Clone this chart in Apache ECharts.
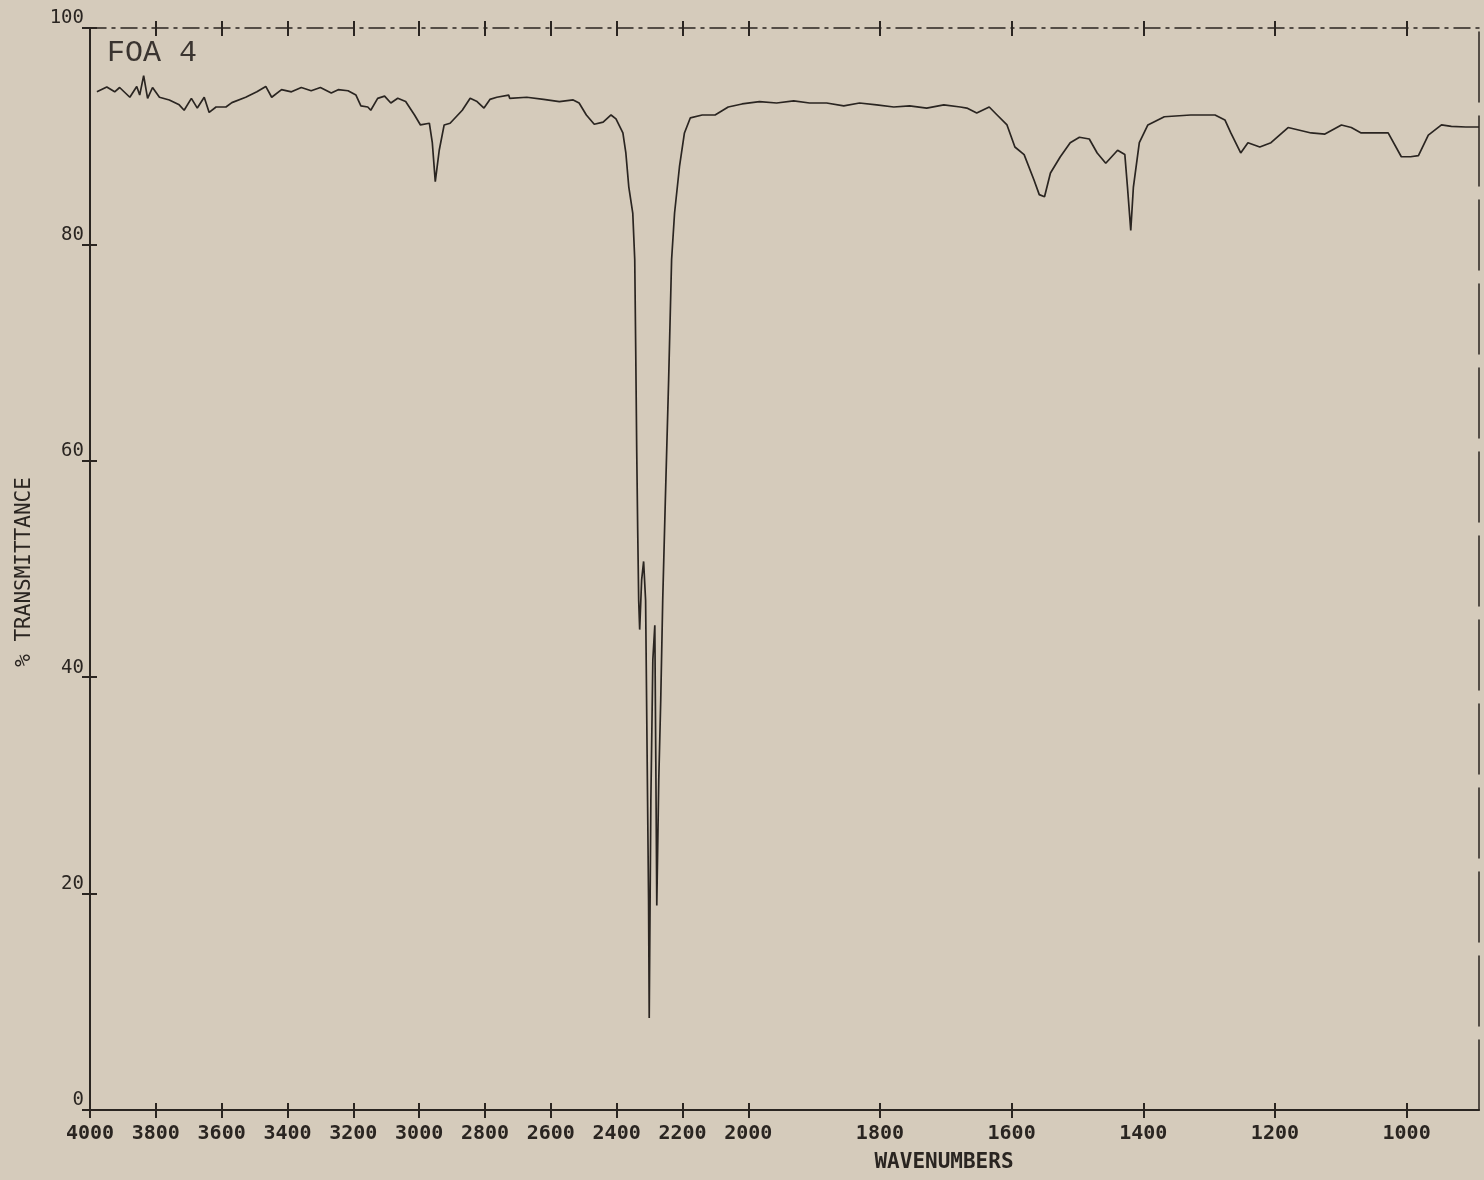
<!DOCTYPE html>
<html>
<head>
<meta charset="utf-8">
<script src="https://cdn.jsdelivr.net/npm/echarts@6/dist/echarts.min.js"></script>
<style>
html,body{margin:0;padding:0;background:#d5cbbb;}
#chart{width:1484px;height:1180px;}
</style>
</head>
<body>
<div id="chart"></div>
<script>
// Wavenumbers (cm-1) and % transmittance
const WAVENUMBERS = [3979,3949,3925,3910,3879,3858,3849,3837,3825,3810,3789,3759,3729,3714,3692,3674,3653,3638,3617,3587,3569,3527,3493,3466,3448,3418,3388,3358,3328,3300,3267,3246,3216,3192,3177,3156,3147,3126,3105,3086,3065,3041,3014,2996,2969,2960,2951,2939,2924,2906,2869,2845,2824,2803,2785,2764,2728,2725,2673,2622,2574,2532,2514,2492,2468,2441,2417,2402,2381,2372,2363,2351,2345,2342,2339,2336,2333,2330,2324,2318,2312,2309,2306,2303,2301,2296,2290,2284,2281,2278,2272,2266,2260,2252,2242,2233,2224,2209,2194,2176,2140,2101,2061,2019,1983,1957,1931,1907,1881,1855,1831,1805,1779,1755,1729,1703,1678,1668,1653,1634,1622,1607,1595,1581,1566,1558,1550,1541,1526,1511,1497,1482,1470,1457,1439,1428,1424,1419,1415,1406,1393,1368,1328,1291,1276,1267,1252,1241,1223,1206,1180,1145,1124,1099,1084,1069,1028,1008,994,982,967,947,932,910,890];
const TRANSMITTANCE = [94.1,94.55,94.1,94.5,93.6,94.6,93.8,95.6,93.5,94.5,93.6,93.35,92.9,92.4,93.5,92.6,93.6,92.2,92.7,92.7,93.1,93.6,94.1,94.6,93.6,94.3,94.1,94.5,94.2,94.5,94.0,94.3,94.2,93.8,92.8,92.7,92.4,93.5,93.7,93.07,93.5,93.2,91.96,91.04,91.2,89.4,85.8,88.7,91.04,91.2,92.4,93.5,93.2,92.6,93.4,93.6,93.8,93.5,93.6,93.4,93.2,93.35,93.07,91.96,91.1,91.3,91.96,91.6,90.3,88.45,85.3,82.9,78.6,70.2,61.0,53.6,47.1,44.4,49.0,50.7,47.1,37.9,28.6,19.4,8.5,28.6,41.6,44.8,32.3,18.9,30.5,37.9,47.1,56.4,67.5,78.6,82.9,87.2,90.3,91.7,91.96,91.96,92.7,92.98,93.2,93.07,93.26,93.07,93.07,92.8,93.07,92.9,92.7,92.8,92.6,92.9,92.7,92.6,92.15,92.7,91.96,91.04,89.0,88.3,85.95,84.6,84.4,86.6,88.1,89.4,89.9,89.74,88.45,87.5,88.7,88.3,85.3,81.3,85.3,89.4,91.04,91.8,91.96,91.96,91.5,90.3,88.45,89.4,89.0,89.4,90.8,90.3,90.2,91.04,90.8,90.3,90.3,88.1,88.1,88.2,90.1,91.04,90.9,90.85,90.85];
const X_TICK_LABELS = [4000,3800,3600,3400,3200,3000,2800,2600,2400,2200,2000,1800,1600,1400,1200,1000];
const Y_TICK_LABELS = [0,20,40,60,80,100];
const X_END = 890;
const TITLE = 'FOA 4';
const X_NAME = 'WAVENUMBERS';
const Y_NAME = '% TRANSMITTANCE';

// Instrument abscissa: scale doubles below 2000 cm-1
function toU(wn){ return wn >= 2000 ? (4000 - wn) / 2 : 1000 + (2000 - wn); }
function fromU(u){ return u <= 1000 ? 4000 - 2 * u : 2000 - (u - 1000); }

const INK = '#2a2521';
const tickU = X_TICK_LABELS.map(toU);
const topTickU = tickU.filter(u => u > 0);
const uMax = toU(X_END);

const data = WAVENUMBERS.map((w, i) => [toU(w), TRANSMITTANCE[i]]);

const chart = echarts.init(document.getElementById('chart'), null, {renderer: 'canvas'});
const baseX = {type: 'value', min: 0, max: uMax, splitLine: {show: false}, gridIndex: 0};
const baseY = {type: 'value', min: 0, max: 100, interval: 20, splitLine: {show: false}, gridIndex: 0};

chart.setOption({
  backgroundColor: '#d5cbbb',
  animation: false,
  grid: {left: 90, right: 5, top: 28, bottom: 70, containLabel: false},
  xAxis: [
    Object.assign({}, baseX, {
      position: 'bottom',
      axisLine: {show: true, onZero: false, lineStyle: {color: INK, width: 2}},
      axisTick: {show: true, customValues: tickU, length: 8, inside: false, lineStyle: {color: INK, width: 2}},
      axisLabel: {show: true, customValues: tickU, margin: 14, color: INK,
        fontFamily: 'DejaVu Sans Mono', fontSize: 20, fontWeight: 'bold',
        formatter: v => String(Math.round(fromU(v)))}
    }),
    Object.assign({}, baseX, {
      position: 'bottom',
      axisLine: {show: false, onZero: false},
      axisTick: {show: true, customValues: tickU, length: 7, inside: true, lineStyle: {color: INK, width: 2}},
      axisLabel: {show: false}
    }),
    Object.assign({}, baseX, {
      position: 'top',
      axisLine: {show: true, onZero: false, lineStyle: {color: INK, width: 1.5, type: [16, 6, 3, 6]}},
      axisTick: {show: true, customValues: topTickU, length: 7, inside: false, lineStyle: {color: INK, width: 2}},
      axisLabel: {show: false}
    }),
    Object.assign({}, baseX, {
      position: 'top',
      axisLine: {show: false, onZero: false},
      axisTick: {show: true, customValues: topTickU, length: 8, inside: true, lineStyle: {color: INK, width: 2}},
      axisLabel: {show: false}
    })
  ],
  yAxis: [
    Object.assign({}, baseY, {
      position: 'left',
      axisLine: {show: true, onZero: false, lineStyle: {color: INK, width: 2}},
      axisTick: {show: true, length: 8, inside: false, lineStyle: {color: INK, width: 2}},
      axisLabel: {show: true, margin: 6, color: INK, fontFamily: 'DejaVu Sans Mono', fontSize: 19,
        verticalAlign: 'bottom', formatter: v => String(v)}
    }),
    Object.assign({}, baseY, {
      position: 'left',
      axisLine: {show: false, onZero: false},
      axisTick: {show: true, length: 7, inside: true, lineStyle: {color: INK, width: 2}},
      axisLabel: {show: false}
    }),
    Object.assign({}, baseY, {
      position: 'right',
      axisLine: {show: true, onZero: false, lineStyle: {color: INK, width: 1.5, type: [70, 14]}},
      axisTick: {show: false},
      axisLabel: {show: false}
    })
  ],
  graphic: [
    {type: 'text', left: 107, top: 38, style: {text: TITLE, fill: '#3a3430', font: '30px "Liberation Mono"'}},
    {type: 'text', x: 944, y: 1163, style: {text: X_NAME, fill: INK, font: 'bold 21px "DejaVu Sans Mono"', align: 'center', verticalAlign: 'middle'}},
    {type: 'text', x: 25, y: 572, rotation: Math.PI / 2, style: {text: Y_NAME, fill: INK, font: '21px "DejaVu Sans Mono"', align: 'center', verticalAlign: 'middle'}}
  ],
  series: [{
    type: 'line',
    xAxisIndex: 0,
    yAxisIndex: 0,
    data: data,
    showSymbol: false,
    smooth: false,
    lineStyle: {color: INK, width: 1.7},
    z: 5
  }]
});
</script>
</body>
</html>
